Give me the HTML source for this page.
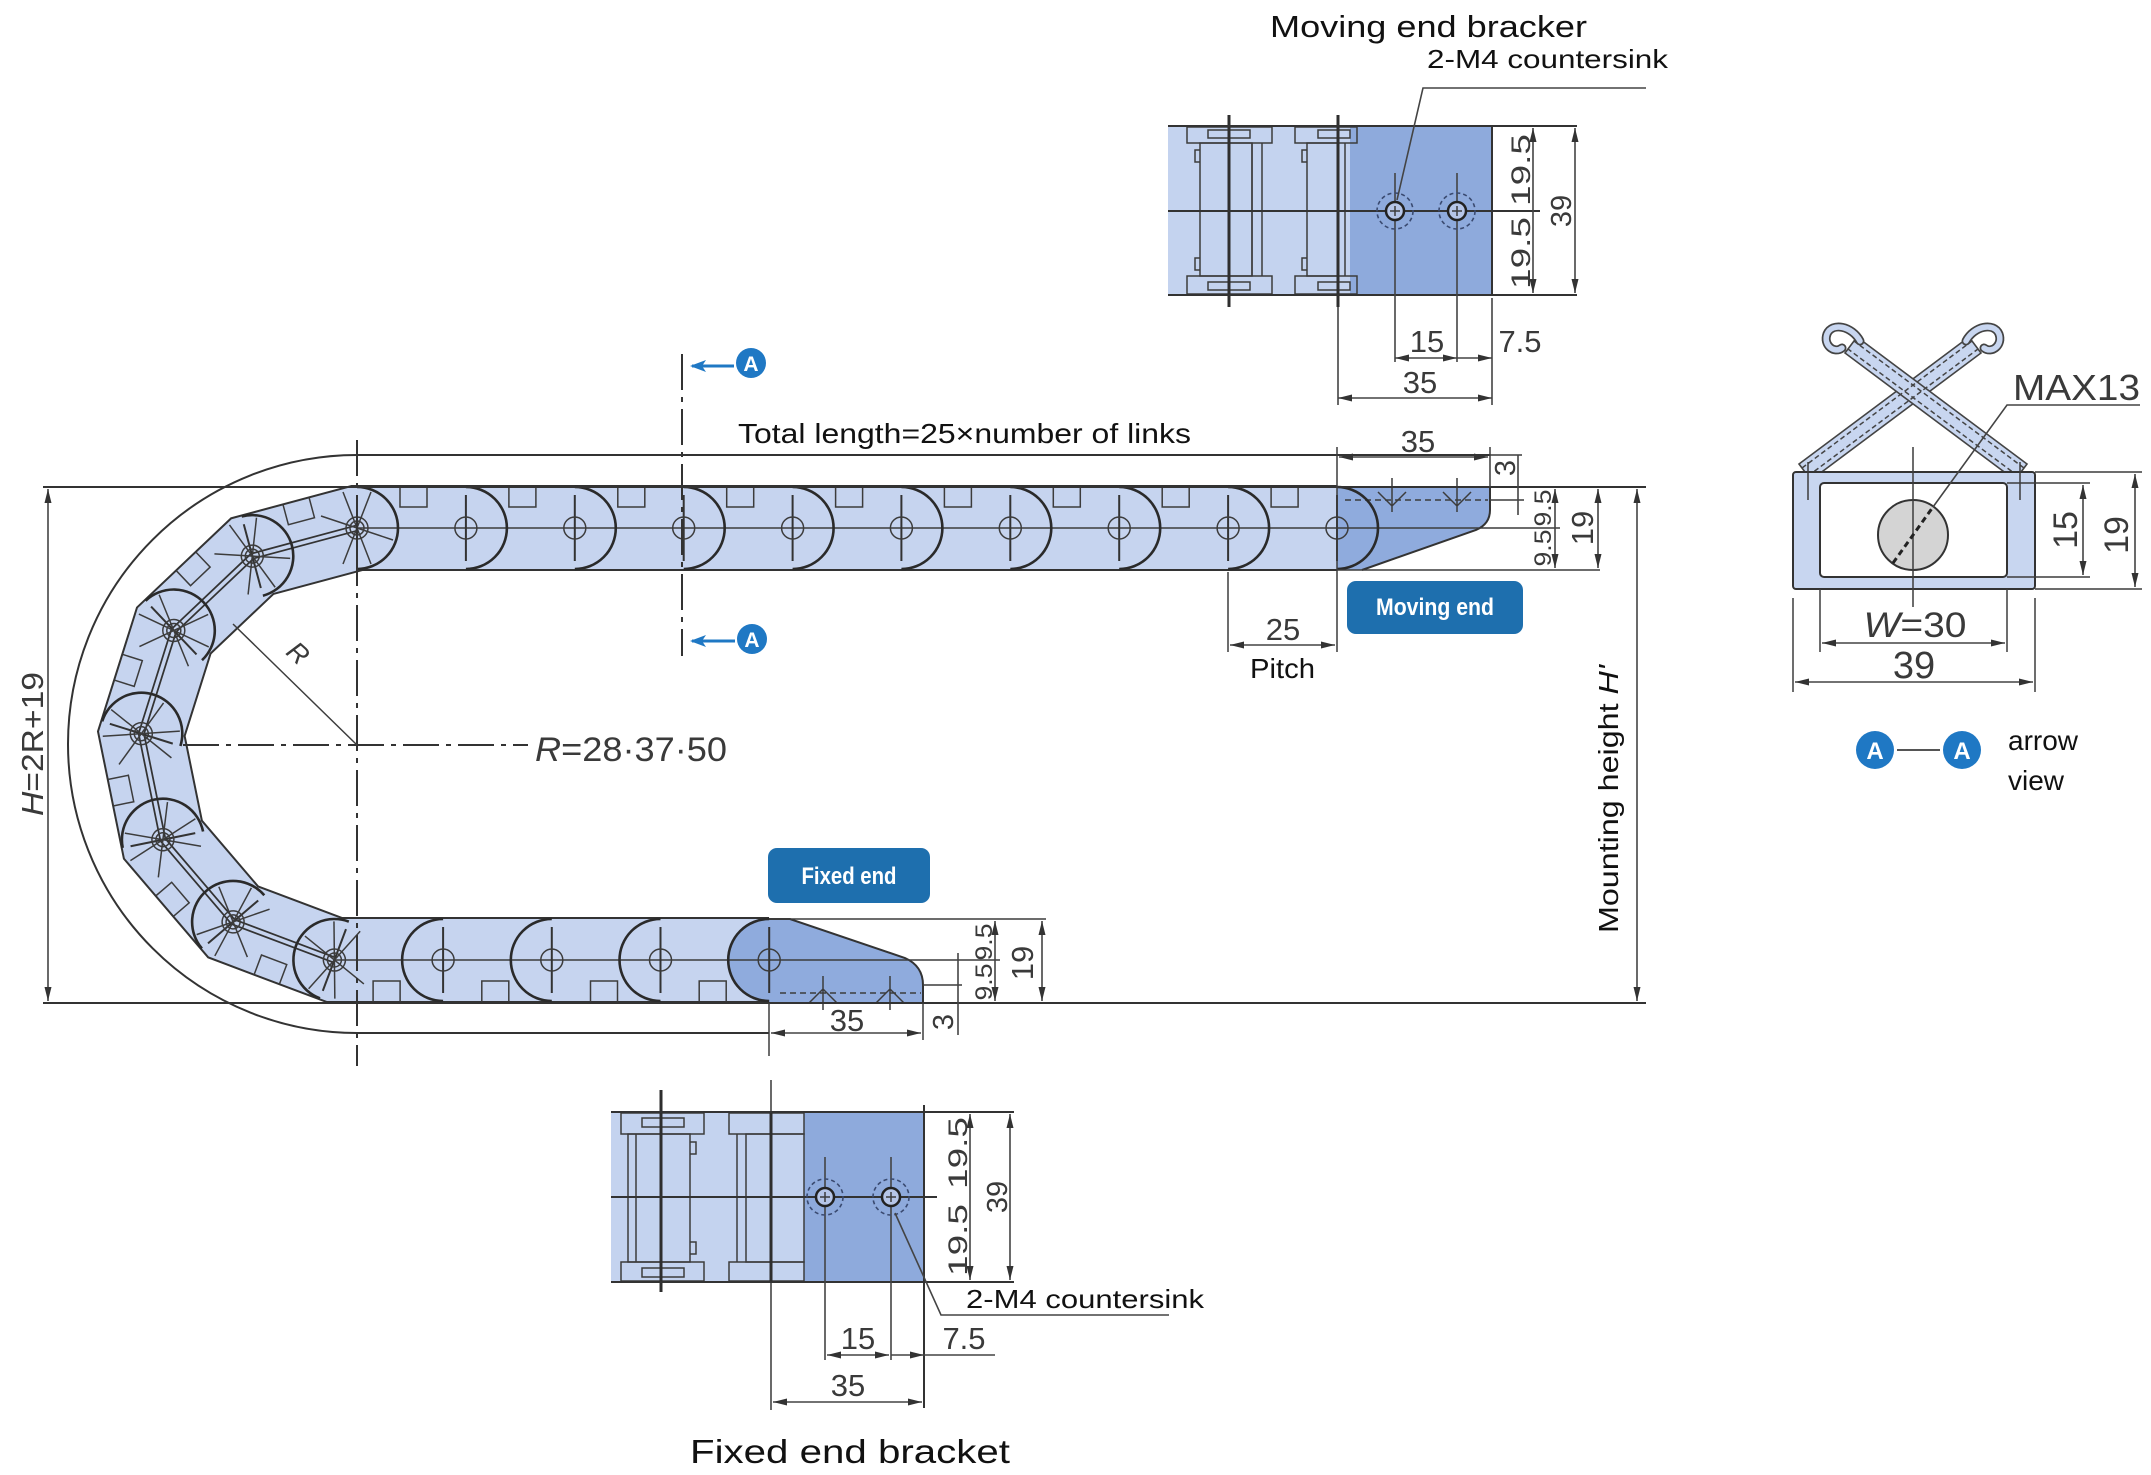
<!DOCTYPE html>
<html><head><meta charset="utf-8">
<style>
html,body{margin:0;padding:0;background:#fff}
svg{display:block}
text{font-family:"Liberation Sans",sans-serif;fill:#2a2a2a}
.k{stroke:#333;stroke-width:2;fill:none}
.th{stroke:#3c3c3c;stroke-width:1.5;fill:none}
.tk{stroke:#2e2e2e;stroke-width:3;fill:none}
.dd{stroke:#333;stroke-width:2;fill:none;stroke-dasharray:36 7 5 7}
.dm{stroke:#444;stroke-width:1.6;fill:none}
.dim{fill:#3a3a3a}
.lb{fill:#111}
</style></head><body>
<svg width="2151" height="1475" viewBox="0 0 2151 1475" xmlns="http://www.w3.org/2000/svg">
<defs>
<marker id="ar" markerWidth="14" markerHeight="8" refX="14" refY="4" orient="auto-start-reverse" markerUnits="userSpaceOnUse"><path d="M0,0.5 L14,4 L0,7.5 z" fill="#333"/></marker>
<marker id="ab" markerWidth="16" markerHeight="12" refX="14" refY="6" orient="auto" markerUnits="userSpaceOnUse"><path d="M0,0 L16,6 L0,12 L4,6 z" fill="#1f78c4"/></marker>
<g id="lk">
<path d="M0,-41 A41,41 0 0 1 0,41" stroke="#2a2a2a" stroke-width="2.6" fill="none"/>
<line x1="0" y1="-33" x2="0" y2="33" class="k"/>
<circle r="11" class="th"/>
<path d="M43,-41.5V-21H70V-41.5" class="th"/>
</g>
<g id="sp" class="th">
<line x1="-14" y1="-36" x2="14" y2="36"/><line x1="14" y1="-36" x2="-14" y2="36"/><line x1="-36" y1="-12" x2="36" y2="12"/><circle r="7"/>
</g>
<g id="hole">
<circle r="18" fill="none" stroke="#3a4a70" stroke-width="1.6" stroke-dasharray="4 3"/>
<circle r="9" fill="#b6c6e8" stroke="#222" stroke-width="2.5"/>
<line x1="-5" y1="0" x2="5" y2="0" class="th"/><line x1="0" y1="-5" x2="0" y2="5" class="th"/>
</g>
</defs>

<!-- ============ MOVING END BRACKET (plan view) ============ -->
<text x="1270" y="37" font-size="31" textLength="317" lengthAdjust="spacingAndGlyphs" class="lb">Moving end bracker</text>
<text x="1427" y="68" font-size="26" textLength="241" lengthAdjust="spacingAndGlyphs" class="lb">2-M4 countersink</text>
<rect x="1168" y="126" width="182" height="169" fill="#c4d3ef"/>
<rect x="1350" y="126" width="142" height="169" fill="#8eaadc"/>
<!-- plate1 -->
<rect x="1200" y="143" width="52" height="133" fill="#fff" class="th"/>
<path d="M1200,150 h-5 v12 h5 M1200,258 h-5 v12 h5" class="th"/>
<rect x="1187" y="127" width="85" height="16" class="th"/>
<rect x="1208" y="130" width="42" height="8" class="th"/>
<rect x="1187" y="276" width="85" height="18" class="th"/>
<rect x="1208" y="282" width="42" height="8" class="th"/>
<line x1="1252" y1="143" x2="1252" y2="276" class="th"/><line x1="1262" y1="143" x2="1262" y2="276" class="th"/>
<line x1="1229" y1="115" x2="1229" y2="307" class="tk"/>
<!-- plate2 -->
<rect x="1307" y="143" width="31" height="133" fill="#fff" class="th"/>
<path d="M1307,150 h-5 v12 h5 M1307,258 h-5 v12 h5" class="th"/>
<rect x="1295" y="127" width="62" height="16" class="th"/>
<rect x="1318" y="130" width="32" height="8" class="th"/>
<rect x="1295" y="276" width="62" height="18" class="th"/>
<rect x="1318" y="282" width="32" height="8" class="th"/>
<line x1="1345" y1="143" x2="1345" y2="276" class="th"/>
<line x1="1338" y1="115" x2="1338" y2="307" class="tk"/>
<line x1="1338" y1="307" x2="1338" y2="405" class="dm"/>
<line x1="1168" y1="126" x2="1577" y2="126" class="k"/>
<line x1="1168" y1="295" x2="1577" y2="295" class="k"/>
<line x1="1168" y1="211" x2="1540" y2="211" class="k"/>
<line x1="1492" y1="126" x2="1492" y2="295" class="k"/>
<line x1="1492" y1="298" x2="1492" y2="405" class="dm"/>
<line x1="1395" y1="173" x2="1395" y2="362" class="dm"/>
<line x1="1457" y1="173" x2="1457" y2="362" class="dm"/>
<use href="#hole" x="1395" y="211"/><use href="#hole" x="1457" y="211"/>
<path d="M1646,88 H1423 L1397,200" class="dm"/>
<line x1="1533" y1="128" x2="1533" y2="293" class="dm" marker-start="url(#ar)" marker-end="url(#ar)"/>
<line x1="1575" y1="128" x2="1575" y2="293" class="dm" marker-start="url(#ar)" marker-end="url(#ar)"/>
<text transform="translate(1530,170) rotate(-90)" text-anchor="middle" font-size="27" textLength="72" lengthAdjust="spacingAndGlyphs" class="dim">19.5</text>
<text transform="translate(1530,253) rotate(-90)" text-anchor="middle" font-size="27" textLength="72" lengthAdjust="spacingAndGlyphs" class="dim">19.5</text>
<text transform="translate(1571,211) rotate(-90)" text-anchor="middle" font-size="29" class="dim">39</text>
<line x1="1395" y1="358" x2="1457" y2="358" class="dm" marker-start="url(#ar)" marker-end="url(#ar)"/>
<line x1="1457" y1="358" x2="1492" y2="358" class="dm" marker-end="url(#ar)"/>
<text x="1427" y="352" text-anchor="middle" font-size="31" class="dim">15</text>
<text x="1520" y="352" text-anchor="middle" font-size="31" class="dim">7.5</text>
<line x1="1338" y1="398" x2="1492" y2="398" class="dm" marker-start="url(#ar)" marker-end="url(#ar)"/>
<text x="1420" y="393" text-anchor="middle" font-size="31" class="dim">35</text>

<!-- ============ MAIN SIDE VIEW ============ -->
<path d="M1490,455 H357 A289,289 0 0 0 357,1033 H769" class="k"/>
<path d="M1337,528 L357,528 L252.3,556.1 L173.8,630.5 L141.3,733.7 L162.9,839.7 L233.1,921.9 L334.4,960 L769,960" fill="none" stroke="#333" stroke-width="86" stroke-linejoin="miter"/>
<path d="M1337,528 L357,528 L252.3,556.1 L173.8,630.5 L141.3,733.7 L162.9,839.7 L233.1,921.9 L334.4,960 L769,960" fill="none" stroke="#c6d4ef" stroke-width="82" stroke-linejoin="miter"/>
<path d="M1337,487 H1490 V510 Q1490,524 1476,530 L1362,570 H1337 Z" fill="#8fabdd"/>
<path d="M1337,487 H1490 V510 Q1490,524 1476,530 L1362,570" class="k"/>
<line x1="1345" y1="500" x2="1488" y2="500" class="th" stroke-dasharray="6 4"/>
<path d="M1392,478 V512 M1378,492 L1392,506 L1406,492 M1457,478 V512 M1443,492 L1457,506 L1471,492" class="th"/>
<path d="M769,919 L790,919 L905,958 Q923,966 923,985 V1003 H769 Z" fill="#8fabdd"/>
<path d="M769,919 A41,41 0 0 0 769,1001 Z" fill="#8fabdd"/>
<path d="M769,919 L790,919 L905,958 Q923,966 923,985 V1003" class="k"/>
<line x1="780" y1="993" x2="921" y2="993" class="th" stroke-dasharray="6 4"/>
<path d="M823,976 V1010 M809,1003 L823,989 L837,1003 M890,976 V1010 M876,1003 L890,989 L904,1003" class="th"/>
<line x1="357" y1="528" x2="1560" y2="528" class="th"/>
<line x1="334" y1="960" x2="1000" y2="960" class="th"/>
<path d="M357,528 L252.3,556.1 L173.8,630.5 L141.3,733.7 L162.9,839.7 L233.1,921.9 L334.4,960" fill="none" stroke="#333" stroke-width="7" stroke-linejoin="round"/>
<path d="M357,528 L252.3,556.1 L173.8,630.5 L141.3,733.7 L162.9,839.7 L233.1,921.9 L334.4,960" fill="none" stroke="#c6d4ef" stroke-width="3.5" stroke-linejoin="round"/>
<use href="#lk" transform="translate(357,528)"/>
<use href="#lk" transform="translate(465.9,528)"/>
<use href="#lk" transform="translate(574.8,528)"/>
<use href="#lk" transform="translate(683.7,528)"/>
<use href="#lk" transform="translate(792.6,528)"/>
<use href="#lk" transform="translate(901.4,528)"/>
<use href="#lk" transform="translate(1010.3,528)"/>
<use href="#lk" transform="translate(1119.2,528)"/>
<use href="#lk" transform="translate(1228.1,528)"/>
<g transform="translate(1337,528)">
<path d="M0,-41 A41,41 0 0 1 0,41" stroke="#2a2a2a" stroke-width="2.6" fill="none"/>
<circle r="11" class="th"/><line x1="0" y1="-33" x2="0" y2="33" class="k"/>
</g>
<use href="#lk" transform="translate(252.3,556.1) rotate(-15)"/>
<use href="#lk" transform="translate(173.8,630.5) rotate(-43.5)"/>
<use href="#lk" transform="translate(141.3,733.7) rotate(-72.5)"/>
<use href="#lk" transform="translate(162.9,839.7) rotate(-101.5)"/>
<use href="#lk" transform="translate(233.1,921.9) rotate(-130.5)"/>
<use href="#lk" transform="translate(334.4,960) rotate(-159.4)"/>
<use href="#sp" transform="translate(357,528)"/>
<use href="#sp" transform="translate(252.3,556.1) rotate(-15)"/>
<use href="#sp" transform="translate(173.8,630.5) rotate(-43.5)"/>
<use href="#sp" transform="translate(141.3,733.7) rotate(-72.5)"/>
<use href="#sp" transform="translate(162.9,839.7) rotate(-101.5)"/>
<use href="#sp" transform="translate(233.1,921.9) rotate(-130.5)"/>
<use href="#sp" transform="translate(334.4,960) rotate(-159.4)"/>
<use href="#lk" transform="translate(443.1,960) rotate(180)"/>
<use href="#lk" transform="translate(551.8,960) rotate(180)"/>
<use href="#lk" transform="translate(660.5,960) rotate(180)"/>
<use href="#lk" transform="translate(769.2,960) rotate(180)"/>

<line x1="43" y1="487" x2="1646" y2="487" class="k"/>
<line x1="43" y1="1003" x2="1646" y2="1003" class="k"/>
<line x1="1337" y1="570" x2="1600" y2="570" class="th"/>
<line x1="48" y1="489" x2="48" y2="1001" class="dm" marker-start="url(#ar)" marker-end="url(#ar)"/>
<text transform="translate(43,744) rotate(-90)" text-anchor="middle" font-size="31" textLength="144" lengthAdjust="spacingAndGlyphs" class="dim"><tspan font-style="italic">H</tspan>=2R+19</text>
<line x1="357" y1="440" x2="357" y2="1066" class="dd"/>
<line x1="183" y1="745" x2="528" y2="745" class="dd"/>
<line x1="357" y1="745" x2="233" y2="624" class="th"/>
<text transform="translate(292,660) rotate(42)" text-anchor="middle" font-size="27" font-style="italic" class="dim">R</text>
<text x="535" y="761" font-size="34" textLength="192" lengthAdjust="spacingAndGlyphs" class="dim"><tspan font-style="italic">R</tspan>=28·37·50</text>
<line x1="682" y1="354" x2="682" y2="656" class="dd"/>
<line x1="734" y1="366" x2="692" y2="366" stroke="#1f78c4" stroke-width="3" marker-end="url(#ab)"/>
<circle cx="751" cy="363" r="15" fill="#1f78c4"/>
<text x="751" y="371" text-anchor="middle" font-size="21" font-weight="bold" style="fill:#fff">A</text>
<line x1="735" y1="641" x2="692" y2="641" stroke="#1f78c4" stroke-width="3" marker-end="url(#ab)"/>
<circle cx="752" cy="639" r="15" fill="#1f78c4"/>
<text x="752" y="647" text-anchor="middle" font-size="21" font-weight="bold" style="fill:#fff">A</text>
<text x="738" y="443" font-size="28" textLength="453" lengthAdjust="spacingAndGlyphs" class="lb">Total length=25×number of links</text>

<line x1="1337" y1="447" x2="1337" y2="652" class="th"/>
<line x1="1490" y1="447" x2="1490" y2="487" class="th"/>
<line x1="1490" y1="455" x2="1522" y2="455" class="th"/>
<line x1="1490" y1="500" x2="1524" y2="500" class="th"/>
<line x1="1339" y1="457" x2="1488" y2="457" class="dm" marker-start="url(#ar)" marker-end="url(#ar)"/>
<text x="1418" y="452" text-anchor="middle" font-size="31" class="dim">35</text>
<line x1="1518" y1="455" x2="1518" y2="515" class="dm"/>
<text transform="translate(1515,468) rotate(-90)" text-anchor="middle" font-size="29" class="dim">3</text>
<line x1="1555" y1="489" x2="1555" y2="568" class="dm" marker-start="url(#ar)" marker-end="url(#ar)"/>
<text transform="translate(1551,508) rotate(-90)" text-anchor="middle" font-size="24" textLength="37" lengthAdjust="spacingAndGlyphs" class="dim">9.5</text>
<text transform="translate(1551,548) rotate(-90)" text-anchor="middle" font-size="24" textLength="37" lengthAdjust="spacingAndGlyphs" class="dim">9.5</text>
<line x1="1598" y1="489" x2="1598" y2="568" class="dm" marker-start="url(#ar)" marker-end="url(#ar)"/>
<text transform="translate(1593,528) rotate(-90)" text-anchor="middle" font-size="31" class="dim">19</text>
<line x1="1637" y1="489" x2="1637" y2="1001" class="dm" marker-start="url(#ar)" marker-end="url(#ar)"/>
<text transform="translate(1618,799) rotate(-90)" text-anchor="middle" font-size="28" textLength="268" lengthAdjust="spacingAndGlyphs" class="lb">Mounting height  <tspan font-style="italic">H'</tspan></text>
<line x1="1228" y1="572" x2="1228" y2="652" class="th"/>
<line x1="1230" y1="645" x2="1335" y2="645" class="dm" marker-start="url(#ar)" marker-end="url(#ar)"/>
<text x="1283" y="640" text-anchor="middle" font-size="31" class="dim">25</text>
<text x="1250" y="678" font-size="28" textLength="65" lengthAdjust="spacingAndGlyphs" class="lb">Pitch</text>
<rect x="1347" y="581" width="176" height="53" rx="9" fill="#1e6fae"/>
<text x="1435" y="615" text-anchor="middle" font-size="24" font-weight="bold" textLength="118" lengthAdjust="spacingAndGlyphs" style="fill:#fff">Moving end</text>

<rect x="768" y="848" width="162" height="55" rx="9" fill="#1e6fae"/>
<text x="849" y="884" text-anchor="middle" font-size="24" font-weight="bold" textLength="95" lengthAdjust="spacingAndGlyphs" style="fill:#fff">Fixed end</text>
<line x1="769" y1="919" x2="1046" y2="919" class="th"/>
<line x1="923" y1="985" x2="962" y2="985" class="th"/>
<line x1="769" y1="1003" x2="769" y2="1056" class="th"/>
<line x1="923" y1="1003" x2="923" y2="1040" class="th"/>
<line x1="771" y1="1033" x2="921" y2="1033" class="dm" marker-start="url(#ar)" marker-end="url(#ar)"/>
<text x="847" y="1031" text-anchor="middle" font-size="31" class="dim">35</text>
<line x1="958" y1="953" x2="958" y2="1035" class="dm"/>
<text transform="translate(953,1022) rotate(-90)" text-anchor="middle" font-size="29" class="dim">3</text>
<line x1="995" y1="921" x2="995" y2="1001" class="dm" marker-start="url(#ar)" marker-end="url(#ar)"/>
<text transform="translate(992,942) rotate(-90)" text-anchor="middle" font-size="24" textLength="37" lengthAdjust="spacingAndGlyphs" class="dim">9.5</text>
<text transform="translate(992,982) rotate(-90)" text-anchor="middle" font-size="24" textLength="37" lengthAdjust="spacingAndGlyphs" class="dim">9.5</text>
<line x1="1042" y1="921" x2="1042" y2="1001" class="dm" marker-start="url(#ar)" marker-end="url(#ar)"/>
<text transform="translate(1033,963) rotate(-90)" text-anchor="middle" font-size="31" class="dim">19</text>

<!-- ============ FIXED END BRACKET (plan view) ============ -->
<rect x="611" y="1112" width="193" height="170" fill="#c4d3ef"/>
<rect x="804" y="1112" width="120" height="170" fill="#8eaadc"/>
<rect x="628" y="1134" width="62" height="128" fill="#fff" class="th"/>
<path d="M690,1142 h6 v12 h-6 M690,1242 h6 v12 h-6" class="th"/>
<rect x="621" y="1113" width="83" height="21" class="th"/>
<rect x="642" y="1118" width="42" height="9" class="th"/>
<rect x="621" y="1262" width="83" height="19" class="th"/>
<rect x="642" y="1268" width="42" height="9" class="th"/>
<line x1="636" y1="1134" x2="636" y2="1262" class="th"/>
<line x1="661" y1="1090" x2="661" y2="1292" class="tk"/>
<rect x="746" y="1134" width="58" height="128" fill="#fff" class="th"/>
<rect x="729" y="1113" width="75" height="21" class="th"/>
<rect x="729" y="1262" width="75" height="19" class="th"/>
<line x1="737" y1="1134" x2="737" y2="1262" class="th"/>
<line x1="771" y1="1080" x2="771" y2="1410" class="dm"/>
<line x1="771" y1="1112" x2="771" y2="1282" class="tk"/>
<line x1="611" y1="1112" x2="1014" y2="1112" class="k"/>
<line x1="611" y1="1282" x2="1014" y2="1282" class="k"/>
<line x1="611" y1="1197" x2="937" y2="1197" class="k"/>
<line x1="924" y1="1105" x2="924" y2="1408" class="k"/>
<line x1="825" y1="1157" x2="825" y2="1360" class="dm"/>
<line x1="891" y1="1157" x2="891" y2="1360" class="dm"/>
<use href="#hole" x="825" y="1197"/><use href="#hole" x="891" y="1197"/>
<path d="M895,1213 L941,1315 H1169" class="dm"/>
<line x1="970" y1="1114" x2="970" y2="1280" class="dm" marker-start="url(#ar)" marker-end="url(#ar)"/>
<line x1="1010" y1="1114" x2="1010" y2="1280" class="dm" marker-start="url(#ar)" marker-end="url(#ar)"/>
<text transform="translate(967,1153) rotate(-90)" text-anchor="middle" font-size="27" textLength="72" lengthAdjust="spacingAndGlyphs" class="dim">19.5</text>
<text transform="translate(967,1240) rotate(-90)" text-anchor="middle" font-size="27" textLength="72" lengthAdjust="spacingAndGlyphs" class="dim">19.5</text>
<text transform="translate(1007,1197) rotate(-90)" text-anchor="middle" font-size="29" class="dim">39</text>
<text x="966" y="1308" font-size="26" textLength="238" lengthAdjust="spacingAndGlyphs" class="lb">2-M4 countersink</text>
<line x1="827" y1="1355" x2="889" y2="1355" class="dm" marker-start="url(#ar)" marker-end="url(#ar)"/>
<line x1="891" y1="1355" x2="995" y2="1355" class="dm"/>
<path d="M924,1355 l-14,-3.5 v7 z" fill="#333"/>
<text x="858" y="1349" text-anchor="middle" font-size="31" class="dim">15</text>
<text x="964" y="1349" text-anchor="middle" font-size="31" class="dim">7.5</text>
<line x1="773" y1="1402" x2="922" y2="1402" class="dm" marker-start="url(#ar)" marker-end="url(#ar)"/>
<text x="848" y="1396" text-anchor="middle" font-size="31" class="dim">35</text>
<text x="690" y="1463" font-size="33" textLength="320" lengthAdjust="spacingAndGlyphs" class="lb">Fixed end bracket</text>

<!-- ============ A-A VIEW ============ -->
<polygon points="1799,464 1969,337 1981,353 1811,480" fill="#c8d6f0" stroke="#444" stroke-width="1.6"/>
<polygon points="2027,464 1857,337 1845,353 2015,480" fill="#c8d6f0" stroke="#444" stroke-width="1.6"/>
<line x1="1802" y1="468" x2="1972" y2="341" stroke="#444" stroke-width="1.5" stroke-dasharray="5 3"/>
<line x1="1808" y1="476" x2="1978" y2="349" stroke="#444" stroke-width="1.5" stroke-dasharray="5 3"/>
<line x1="2024" y1="468" x2="1854" y2="341" stroke="#444" stroke-width="1.5" stroke-dasharray="5 3"/>
<line x1="2018" y1="476" x2="1848" y2="349" stroke="#444" stroke-width="1.5" stroke-dasharray="5 3"/>
<path d="M1966,341 C1974,326 1994,322 1999,334 C2003,345 1992,354 1984,348" fill="none" stroke="#444" stroke-width="9" stroke-linecap="round"/>
<path d="M1966,341 C1974,326 1994,322 1999,334 C2003,345 1992,354 1984,348" fill="none" stroke="#c8d6f0" stroke-width="5.5" stroke-linecap="round"/>
<path d="M1860,341 C1852,326 1832,322 1827,334 C1823,345 1834,354 1842,348" fill="none" stroke="#444" stroke-width="9" stroke-linecap="round"/>
<path d="M1860,341 C1852,326 1832,322 1827,334 C1823,345 1834,354 1842,348" fill="none" stroke="#c8d6f0" stroke-width="5.5" stroke-linecap="round"/>
<rect x="1793" y="472" width="242" height="117" rx="3" fill="#c8d6f0" stroke="#333" stroke-width="2"/>
<rect x="1820" y="483" width="187" height="94" rx="4" fill="#fff" stroke="#333" stroke-width="2"/>
<path d="M1808,462 V500 M2020,462 V500" class="th"/>
<circle cx="1913" cy="535" r="35" fill="#d4d4d4" stroke="#333" stroke-width="2"/>
<line x1="1913" y1="447" x2="1913" y2="607" class="th"/>
<line x1="1893" y1="563" x2="1933" y2="507" stroke="#222" stroke-width="3" stroke-dasharray="6 4"/>
<path d="M1933,507 L2007,405 H2140" class="dm"/>
<text x="2013" y="400" font-size="36" textLength="127" lengthAdjust="spacingAndGlyphs" class="dim">MAX13</text>
<line x1="2035" y1="472" x2="2142" y2="472" class="th"/>
<line x1="2007" y1="483" x2="2090" y2="483" class="th"/>
<line x1="2007" y1="577" x2="2090" y2="577" class="th"/>
<line x1="2035" y1="589" x2="2142" y2="589" class="th"/>
<line x1="2083" y1="485" x2="2083" y2="575" class="dm" marker-start="url(#ar)" marker-end="url(#ar)"/>
<line x1="2135" y1="474" x2="2135" y2="587" class="dm" marker-start="url(#ar)" marker-end="url(#ar)"/>
<text transform="translate(2077,530) rotate(-90)" text-anchor="middle" font-size="34" class="dim">15</text>
<text transform="translate(2128,535) rotate(-90)" text-anchor="middle" font-size="34" class="dim">19</text>
<line x1="1820" y1="589" x2="1820" y2="652" class="th"/>
<line x1="2007" y1="589" x2="2007" y2="652" class="th"/>
<line x1="1793" y1="598" x2="1793" y2="692" class="th"/>
<line x1="2035" y1="598" x2="2035" y2="692" class="th"/>
<line x1="1822" y1="643" x2="2005" y2="643" class="dm" marker-start="url(#ar)" marker-end="url(#ar)"/>
<line x1="1795" y1="682" x2="2033" y2="682" class="dm" marker-start="url(#ar)" marker-end="url(#ar)"/>
<text x="1915" y="637" text-anchor="middle" font-size="35" textLength="103" lengthAdjust="spacingAndGlyphs" class="dim"><tspan font-style="italic">W</tspan>=30</text>
<text x="1914" y="678" text-anchor="middle" font-size="38" class="dim">39</text>
<circle cx="1875" cy="750" r="19" fill="#1f78c4"/>
<text x="1875" y="759" text-anchor="middle" font-size="24" font-weight="bold" style="fill:#fff">A</text>
<line x1="1897" y1="750" x2="1940" y2="750" stroke="#555" stroke-width="2"/>
<circle cx="1962" cy="750" r="19" fill="#1f78c4"/>
<text x="1962" y="759" text-anchor="middle" font-size="24" font-weight="bold" style="fill:#fff">A</text>
<text x="2008" y="750" font-size="28" class="lb">arrow</text>
<text x="2008" y="790" font-size="28" class="lb">view</text>
</svg>
</body></html>
